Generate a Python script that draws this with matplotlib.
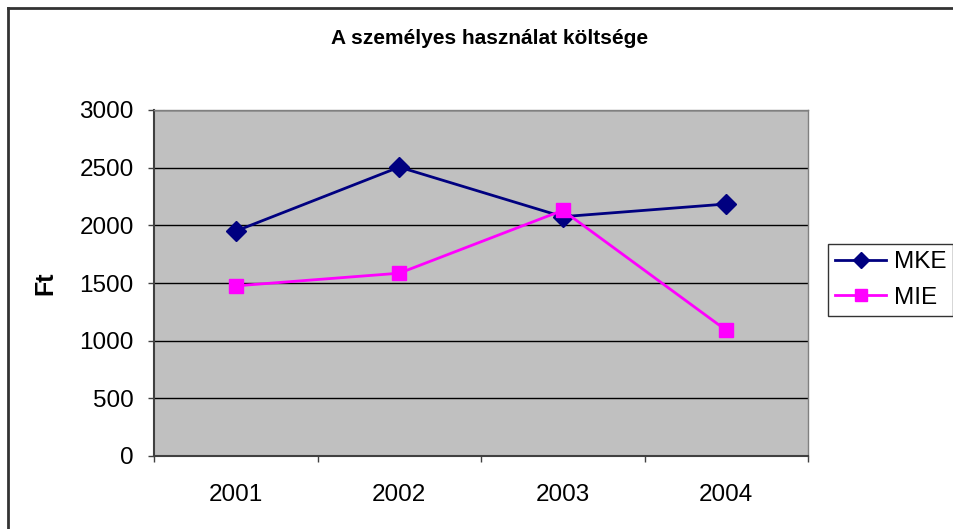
import matplotlib
matplotlib.use("Agg")
import matplotlib.pyplot as plt
from matplotlib.lines import Line2D
import numpy as np

years = ["2001", "2002", "2003", "2004"]
mke = [1950, 2505, 2075, 2185]
mie = [1475, 1585, 2130, 1090]

plt.rcParams['font.family'] = ['Liberation Sans', 'DejaVu Sans']

fig = plt.figure(figsize=(9.54, 5.29), dpi=100)
ax = fig.add_axes([154 / 954, 1 - 456 / 529, (808 - 154) / 954, (456 - 110) / 529])
ax.set_facecolor('#c0c0c0')

x = np.arange(len(years))
ax.plot(x, mke, color='#000080', lw=2, marker='D', ms=10, label='MKE', zorder=3)
ax.plot(x, mie, color='#ff00ff', lw=2, marker='s', ms=10, label='MIE', zorder=3)

ax.set_xlim(-0.5, len(years) - 0.5)
ax.set_ylim(0, 3000)
ax.set_yticks(np.arange(0, 3001, 500))
ax.yaxis.grid(True, color='black', lw=1)
ax.set_axisbelow(True)

ax.set_xticks(x)
ax.set_xticklabels(years)
ax.set_xticks(np.arange(-0.5, len(years), 1), minor=True)
ax.tick_params(axis='x', which='major', length=0, pad=20, labelsize=17.5)
ax.tick_params(axis='x', which='minor', length=4.5, direction='out', width=1, color='#404040')
ax.tick_params(axis='y', length=4.5, width=1, pad=10, labelsize=17.5, color='#404040')

for side in ['top', 'right']:
    ax.spines[side].set_color('#808080')
    ax.spines[side].set_linewidth(1)
for side in ['left', 'bottom']:
    ax.spines[side].set_color('#404040')
    ax.spines[side].set_linewidth(1.5)

ax.set_ylabel('Ft', fontsize=18, fontweight='bold', labelpad=16)
fig.text(0.513, 1 - 38 / 529, 'A személyes használat költsége', ha='center', va='center',
         fontsize=15, fontweight='bold')

leg = ax.legend(loc='upper left', bbox_to_anchor=(828 / 954, 1 - 244 / 529), bbox_transform=fig.transFigure,
                fontsize=17.5, frameon=True, fancybox=False, edgecolor='black', handlelength=2.1,
                borderpad=0.3, labelspacing=0.55, handletextpad=0.3, borderaxespad=0)
leg.get_frame().set_linewidth(1)
for h in leg.legend_handles:
    h.set_markersize(8)

# outer chart border (top and left edges visible)
fig.add_artist(Line2D([8.5 / 954, 1], [1 - 7.5 / 529, 1 - 7.5 / 529], color='#333333', lw=2,
                      transform=fig.transFigure))
fig.add_artist(Line2D([8.5 / 954, 8.5 / 954], [0, 1 - 7.5 / 529], color='#333333', lw=2,
                      transform=fig.transFigure))

plt.savefig('out.png', dpi=100, facecolor='white')
